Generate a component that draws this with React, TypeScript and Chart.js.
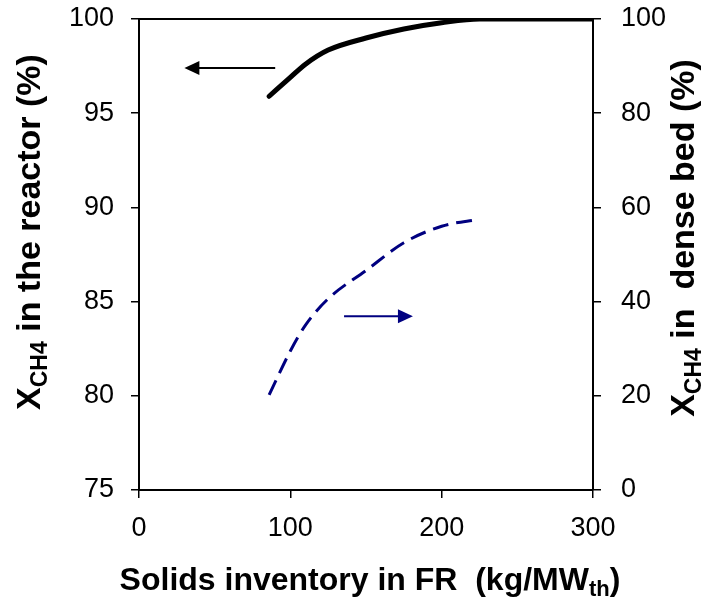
import React, { useEffect, useRef } from "react";
import { Chart, registerables } from "chart.js";

Chart.register(...registerables);

// Solids inventory in FR (kg/MWth)
const inventory = [86, 100, 110, 125, 150, 175, 200, 225, 300];
// X_CH4 in the reactor (%)
const reactorConversion = [95.9, 96.9, 97.6, 98.35, 98.99, 99.47, 99.8, 100, 100];
// Solids inventory for the dense-bed curve
const denseInventory = [86, 100, 110, 125, 150, 175, 200, 225];
// X_CH4 in dense bed (%)
const denseBedConversion = [20.2, 29.5, 35, 40.6, 46.6, 52.5, 56, 57.5];

const xTicks = [0, 100, 200, 300];
const leftTicks = [75, 80, 85, 90, 95, 100];
const rightTicks = [0, 20, 40, 60, 80, 100];

// arrows in data coordinates: [xFrom, xTo, y]
const leftArrow = [90, 30, 97.4];
const rightArrow = [135.5, 181, 36.9];

const FONT = 'Arial, "Liberation Sans", sans-serif';

function drawSubText(
  ctx: CanvasRenderingContext2D,
  parts: { t: string; sub?: boolean }[],
  size: number,
  cx: number,
  cy: number,
  rotate: boolean
) {
  const subSize = Math.round(size * 0.68);
  ctx.save();
  ctx.translate(cx, cy);
  if (rotate) ctx.rotate(-Math.PI / 2);
  ctx.fillStyle = "#000";
  ctx.textBaseline = "alphabetic";
  let total = 0;
  const widths = parts.map((p) => {
    ctx.font = `bold ${p.sub ? subSize : size}px ${FONT}`;
    const w = ctx.measureText(p.t).width;
    total += w;
    return w;
  });
  let x = -total / 2;
  const base = size * 0.36;
  parts.forEach((p, i) => {
    ctx.font = `bold ${p.sub ? subSize : size}px ${FONT}`;
    ctx.fillText(p.t, x, p.sub ? base + size * 0.2 : base);
    x += widths[i];
  });
  ctx.restore();
}

const decorPlugin = {
  id: "decor",
  afterDraw(chart: any) {
    const { ctx, chartArea, scales } = chart;
    ctx.save();
    // top frame line
    ctx.strokeStyle = "#000";
    ctx.lineWidth = 2;
    ctx.beginPath();
    ctx.moveTo(chartArea.left, chartArea.top);
    ctx.lineTo(chartArea.right, chartArea.top);
    ctx.stroke();

    const arrow = (x1: number, x2: number, y: number, color: string) => {
      ctx.strokeStyle = color;
      ctx.fillStyle = color;
      ctx.lineWidth = 2;
      const dir = x2 > x1 ? 1 : -1;
      ctx.beginPath();
      ctx.moveTo(x1, y);
      ctx.lineTo(x2 - dir * 14, y);
      ctx.stroke();
      ctx.beginPath();
      ctx.moveTo(x2, y);
      ctx.lineTo(x2 - dir * 15, y - 7);
      ctx.lineTo(x2 - dir * 15, y + 7);
      ctx.closePath();
      ctx.fill();
    };
    arrow(
      scales.x.getPixelForValue(leftArrow[0]),
      scales.x.getPixelForValue(leftArrow[1]),
      scales.y.getPixelForValue(leftArrow[2]),
      "#000"
    );
    arrow(
      scales.x.getPixelForValue(rightArrow[0]),
      scales.x.getPixelForValue(rightArrow[1]),
      scales.y2.getPixelForValue(rightArrow[2]),
      "#000080"
    );
    ctx.restore();

    drawSubText(
      ctx,
      [{ t: "X" }, { t: "CH4", sub: true }, { t: " in the reactor (%)" }],
      34,
      28,
      232,
      true
    );
    drawSubText(
      ctx,
      [{ t: "X" }, { t: "CH4", sub: true }, { t: " in  dense bed (%)" }],
      34,
      682,
      238,
      true
    );
    drawSubText(
      ctx,
      [{ t: "Solids inventory in FR  (kg/MW" }, { t: "th", sub: true }, { t: ")" }],
      32,
      370,
      578,
      false
    );
  },
};

export default function App() {
  const ref = useRef<HTMLCanvasElement | null>(null);
  useEffect(() => {
    if (!ref.current) return;
    const tickFont = { family: FONT, size: 27 };
    const grid = {
      drawOnChartArea: false,
      drawTicks: true,
      tickLength: 8,
      color: "#000",
      lineWidth: 1.5,
    };
    const border = { display: true, color: "#000", width: 2 };
    const chart = new Chart(ref.current, {
      type: "line",
      data: {
        datasets: [
          {
            data: inventory.map((x, i) => ({ x, y: reactorConversion[i] })),
            borderColor: "#000",
            borderWidth: 5,
            borderCapStyle: "round",
            pointRadius: 0,
            cubicInterpolationMode: "monotone",
            yAxisID: "y",
          },
          {
            data: denseInventory.map((x, i) => ({ x, y: denseBedConversion[i] })),
            borderColor: "#000080",
            borderWidth: 3,
            borderDash: [16, 8],
            pointRadius: 0,
            cubicInterpolationMode: "monotone",
            yAxisID: "y2",
          },
        ],
      },
      options: {
        responsive: false,
        animation: false,
        layout: { padding: { top: 19, left: 0, right: 0, bottom: 0 } },
        plugins: { legend: { display: false }, tooltip: { enabled: false } },
        scales: {
          x: {
            type: "linear",
            min: 0,
            max: 300,
            afterBuildTicks: (s: any) => {
              s.ticks = xTicks.map((v) => ({ value: v }));
            },
            ticks: { font: tickFont, color: "#000", padding: 14, maxRotation: 0 },
            grid,
            border,
            afterFit: (s: any) => {
              s.height = 115;
              s.paddingLeft = 0;
              s.paddingRight = 0;
            },
          },
          y: {
            type: "linear",
            position: "left",
            min: 75,
            max: 100,
            afterBuildTicks: (s: any) => {
              s.ticks = leftTicks.map((v) => ({ value: v }));
            },
            ticks: { font: tickFont, color: "#000", padding: 17 },
            grid,
            border,
            afterFit: (s: any) => {
              s.width = 139;
              s.paddingTop = 0;
              s.paddingBottom = 0;
            },
          },
          y2: {
            type: "linear",
            position: "right",
            min: 0,
            max: 100,
            afterBuildTicks: (s: any) => {
              s.ticks = rightTicks.map((v) => ({ value: v }));
            },
            ticks: { font: tickFont, color: "#000", padding: 20 },
            grid,
            border,
            afterFit: (s: any) => {
              s.width = 109;
              s.paddingTop = 0;
              s.paddingBottom = 0;
            },
          },
        },
      },
      plugins: [decorPlugin],
    } as any);
    return () => chart.destroy();
  }, []);
  return (
    <div style={{ position: "fixed", left: 0, top: 0, width: 702, height: 605, background: "#fff" }}>
      <canvas ref={ref} width={702} height={605} style={{ width: 702, height: 605 }} />
    </div>
  );
}
